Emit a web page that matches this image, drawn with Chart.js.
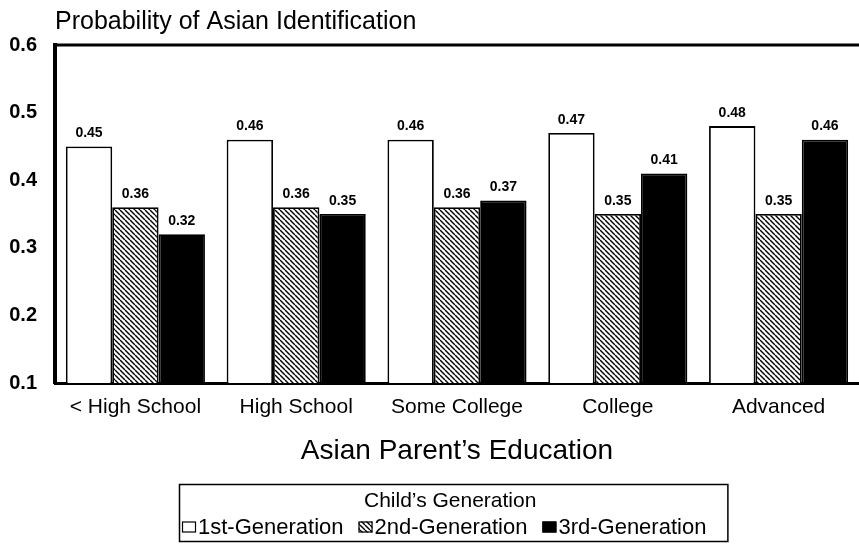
<!DOCTYPE html>
<html>
<head>
<meta charset="utf-8">
<script src="https://cdn.jsdelivr.net/npm/chart.js@4/dist/chart.umd.min.js"></script>
<style>
    html, body { margin: 0; padding: 0; background: #fff; }
    #chart { display: block; }
</style>
</head>
<body>
<canvas id="chart" width="859" height="544"></canvas>
<script>
const categories = ['< High School', 'High School', 'Some College', 'College', 'Advanced'];
const firstGen = [0.45, 0.46, 0.46, 0.47, 0.48];
const secondGen = [0.36, 0.36, 0.36, 0.35, 0.35];
const thirdGen = [0.32, 0.35, 0.37, 0.41, 0.46];
const seriesLabels = ['1st-Generation', '2nd-Generation', '3rd-Generation'];
const yTicks = [0.1, 0.2, 0.3, 0.4, 0.5, 0.6];

const FONT = '"Liberation Sans", Arial, Helvetica, sans-serif';

function makeHatch() {
    const s = 5;
    const c = document.createElement('canvas');
    c.width = s; c.height = s;
    const g = c.getContext('2d');
    g.fillStyle = '#fff';
    g.fillRect(0, 0, s, s);
    g.strokeStyle = '#000';
    g.lineWidth = 1.4;
    [-s, 0, s].forEach(a => {
        g.beginPath();
        g.moveTo(a, 0);
        g.lineTo(a + s, s);
        g.stroke();
    });
    return document.getElementById('chart').getContext('2d').createPattern(c, 'repeat');
}

const hatch = makeHatch();
const fills = ['#fff', hatch, '#000'];

// value labels above each bar
const barLabels = {
    id: 'barLabels',
    afterDatasetsDraw(chart) {
        const ctx = chart.ctx;
        ctx.save();
        ctx.font = `bold 14px ${FONT}`;
        ctx.fillStyle = '#000';
        ctx.textAlign = 'center';
        ctx.textBaseline = 'middle';
        chart.data.datasets.forEach((ds, i) => {
            chart.getDatasetMeta(i).data.forEach((bar, j) => {
                ctx.fillText(ds.data[j].toFixed(2), bar.x, bar.y - 13);
            });
        });
        ctx.restore();
    }
};

// top frame line + boxed legend with title
const frameAndLegend = {
    id: 'frameAndLegend',
    afterDraw(chart) {
        const ctx = chart.ctx;
        const area = chart.chartArea;
        ctx.save();
        ctx.strokeStyle = '#000';
        ctx.lineWidth = 3;
        ctx.beginPath();
        ctx.moveTo(area.left - 2, area.top);
        ctx.lineTo(chart.width, area.top);
        ctx.stroke();

        const itemFont = `22px ${FONT}`;
        ctx.font = itemFont;
        const iconW = 14, iconH = 11, iconGap = 2, itemGap = 15;
        const widths = seriesLabels.map(t => ctx.measureText(t).width);
        const itemsW = widths.reduce((a, w) => a + iconW + iconGap + w, 0) + itemGap * (seriesLabels.length - 1);
        const boxW = itemsW + 24;
        const cx = (area.left + area.right) / 2 - 4;
        const boxL = Math.round(cx - boxW / 2);
        const boxT = 484, boxB = 541;

        ctx.lineWidth = 1.5;
        ctx.strokeRect(boxL + 0.5, boxT + 0.5, boxW, boxB - boxT);

        ctx.fillStyle = '#000';
        ctx.textBaseline = 'middle';
        ctx.textAlign = 'center';
        ctx.font = `21px ${FONT}`;
        ctx.fillText("Child\u2019s Generation", boxL + boxW / 2 - 3, 501);

        ctx.textAlign = 'left';
        ctx.font = itemFont;
        let x = boxL + 3;
        const cy = 528;
        seriesLabels.forEach((t, i) => {
            ctx.fillStyle = fills[i];
            ctx.fillRect(x, cy - iconH / 2 - 1, iconW, iconH);
            ctx.lineWidth = 1.2;
            ctx.strokeRect(x + 0.5, cy - iconH / 2 - 0.5, iconW - 1, iconH - 1);
            ctx.fillStyle = '#000';
            ctx.fillText(t, x + iconW + iconGap, cy);
            x += iconW + iconGap + widths[i] + itemGap;
        });
        ctx.restore();
    }
};

const datasets = [firstGen, secondGen, thirdGen].map((data, i) => ({
    label: seriesLabels[i],
    data: data,
    base: yTicks[0],
    backgroundColor: fills[i],
    borderColor: '#000',
    borderWidth: 1.8,
    borderSkipped: 'bottom',
    categoryPercentage: 0.865,
    barPercentage: 1.0
}));

new Chart(document.getElementById('chart'), {
    type: 'bar',
    data: { labels: categories, datasets: datasets },
    plugins: [barLabels, frameAndLegend],
    options: {
        responsive: false,
        animation: false,
        devicePixelRatio: 1,
        layout: { padding: { top: 0, right: 0, bottom: 73, left: 0 } },
        plugins: {
            legend: { display: false },
            tooltip: { enabled: false },
            title: {
                display: true,
                text: 'Probability of Asian Identification',
                align: 'start',
                fullSize: false,
                color: '#000',
                font: { family: FONT, size: 25, weight: 'normal' },
                padding: { top: 7, bottom: 8 }
            }
        },
        scales: {
            x: {
                grid: { display: false, drawTicks: false },
                border: { display: true, color: '#000', width: 3 },
                ticks: {
                    color: '#000',
                    font: { family: FONT, size: 21 },
                    padding: 12,
                    maxRotation: 0,
                    autoSkip: false
                },
                title: {
                    display: true,
                    text: 'Asian Parent\u2019s Education',
                    color: '#000',
                    font: { family: FONT, size: 28 },
                    padding: { top: 15, bottom: 3 }
                },
                afterFit(scale) { scale.height = 88; }
            },
            y: {
                min: yTicks[0],
                max: yTicks[yTicks.length - 1],
                grid: { display: false, drawTicks: false },
                border: { display: true, color: '#000', width: 4 },
                afterBuildTicks(scale) { scale.ticks = yTicks.map(v => ({ value: v })); },
                ticks: {
                    color: '#000',
                    font: { family: FONT, size: 20, weight: 'bold' },
                    padding: 18,
                    callback: v => v.toFixed(1)
                },
                afterFit(scale) { scale.width = 55; }
            }
        }
    }
});
</script>
</body>
</html>
